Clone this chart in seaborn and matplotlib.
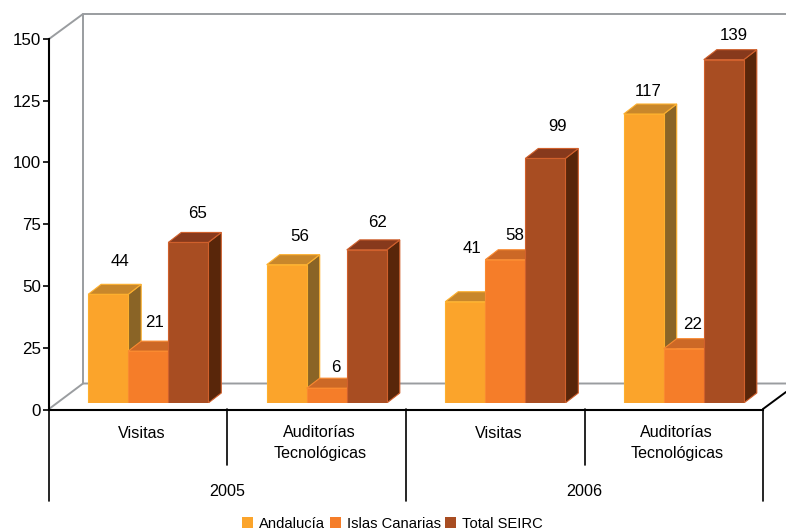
import matplotlib
matplotlib.use("Agg")
import matplotlib.pyplot as plt
from matplotlib.lines import Line2D
from matplotlib.patches import Polygon, Patch
import pandas as pd
import seaborn as sns

categories = ["2005 Visitas", "2005 Auditorías", "2006 Visitas", "2006 Auditorías"]
category_labels = ["Visitas", "Auditorías\nTecnológicas", "Visitas", "Auditorías\nTecnológicas"]
years = ["2005", "2006"]
series = ["Andalucía", "Islas Canarias", "Total SEIRC"]
andalucia = [44, 56, 41, 117]
canarias = [21, 6, 58, 22]
total = [65, 62, 99, 139]
y_ticks = [0, 25, 50, 75, 100, 125, 150]

front = ["#FBA42B", "#F57D29", "#A84D22"]
top = ["#C8872B", "#CC6826", "#87391C"]
side = ["#8A6426", "#8F5220", "#59260A"]
edge = ["#FDB02E", "#FA8A30", "#D0602C"]
# manual label placement in pixels from each bar's top centre (series, category)
label_shift = [[(12, 33), (13, 28), (7, 53), (4, 23)],
               [(6, 29), (9, 21), (9, 24), (9, 24)],
               [(9, 29), (11, 27), (12, 32), (10, 24)]]

W, H = 786, 529
sns.set_style("white")
plt.rcParams["font.family"] = ["Liberation Sans", "DejaVu Sans"]
plt.rcParams["text.color"] = "black"
plt.rcParams["ytick.labelcolor"] = "black"
FS = 11.6
fig = plt.figure(figsize=(W / 100, H / 100), dpi=100, facecolor="white")


def box(x0, x1, ytop, ybot):
    return [x0 / W, 1 - ybot / H, (x1 - x0) / W, (ybot - ytop) / H]


def fline(xs, ys, color="black", lw=1.4, z=1):
    fig.add_artist(Line2D([x / W for x in xs], [1 - y / H for y in ys],
                          color=color, lw=lw, zorder=z))


# Frame plane with the value axis
X0, X1, Y150, Y0 = 49, 763, 39, 409.5
frame = fig.add_axes(box(X0, X1, Y150, Y0), facecolor="none")
frame.set_xlim(-0.5, 3.5)
frame.set_ylim(0, 150)
frame.set_xticks([])
frame.set_yticks(y_ticks)
frame.tick_params(axis="y", length=4, width=1.2, pad=2, labelsize=FS + 0.6,
                  left=True, color="black", labelcolor="black")
sns.despine(ax=frame, top=True, right=True)
for s in ("left", "bottom"):
    frame.spines[s].set_linewidth(1.5)
    frame.spines[s].set_color("black")

# Back walls sit behind the axes that hold the bars
GRAY = "#9A9DA0"
fline([49, 83, 83], [39, 14, 383.5], GRAY, 1.4, z=-1)
fline([83, W], [14, 14], GRAY, 1.4, z=-1)
fline([49, 83, W], [409, 383.5, 383.5], GRAY, 1.4, z=-1)
fline([763, W], [409, 392], "black", 1.4)

# Hierarchical axis separators
for x in (49, 406, 763):
    fline([x, x], [409, 501], "black", 1.2)
for x in (227, 585):
    fline([x, x], [409, 465], "black", 1.2)

# Bars plane, shifted up and right from the frame plane
bars = fig.add_axes(box(X0 + 10, X1 + 10, Y150 - 6.5, Y0 - 6.5), facecolor="none")
df = pd.DataFrame({
    "categoria": categories * 3,
    "serie": [s for s in series for _ in categories],
    "valor": andalucia + canarias + total,
})
sns.barplot(data=df, x="categoria", y="valor", hue="serie", order=categories,
            hue_order=series, palette=front, saturation=1, width=0.673, gap=0,
            errorbar=None, legend=False, ax=bars)
bars.set_xlim(-0.5, 3.5)
bars.set_ylim(0, 150)
bars.axis("off")

dx = 13 * 4 / (X1 - X0)
dy = 10 * 150 / (Y0 - Y150)
for si, container in enumerate(bars.containers):
    for ci, bar in enumerate(container):
        x, w, h = bar.get_x(), bar.get_width(), bar.get_height()
        z = 3 + ci * 10 + si * 3
        bar.set_zorder(z + 2)
        bar.set_edgecolor(edge[si])
        bar.set_linewidth(0.8)
        bars.add_patch(Polygon([(x + w, 0), (x + w + dx, dy), (x + w + dx, h + dy), (x + w, h)],
                               facecolor=side[si], edgecolor=edge[si], lw=0.8, zorder=z))
        bars.add_patch(Polygon([(x, h), (x + dx, h + dy), (x + w + dx, h + dy), (x + w, h)],
                               facecolor=top[si], edgecolor=edge[si], lw=0.8, zorder=z + 1))
        sx, sy = label_shift[si][ci]
        bars.annotate(f"{int(h)}", xy=(x + w / 2, h), xytext=(sx, sy),
                      textcoords="offset pixels", ha="center", va="center",
                      fontsize=FS + 0.6, color="black", zorder=100, annotation_clip=False)

# Category and year labels
xform = frame.get_xaxis_transform()
for i, lab in enumerate(category_labels):
    first = "\n" in lab
    frame.annotate(lab, xy=(i, 0), xycoords=xform,
                   xytext=(3, -33.5 if first else -23.5), textcoords="offset pixels",
                   ha="center", va="center", fontsize=FS, linespacing=1.5,
                   color="black", annotation_clip=False)
for i, yr in enumerate(years):
    frame.annotate(yr, xy=(2 * i + 0.5, 0), xycoords=xform, xytext=(0, -82),
                   textcoords="offset pixels", ha="center", va="center",
                   fontsize=FS, color="black", annotation_clip=False)

handles = [Patch(facecolor=c, edgecolor="none") for c in front]
fig.legend(handles, series, ncol=3, frameon=False, fontsize=10.6,
           loc="center", bbox_to_anchor=(392.5 / W, 1 - 523.5 / H),
           handlelength=0.75, handleheight=0.75, handletextpad=0.4,
           columnspacing=0.3, borderpad=0, borderaxespad=0, labelcolor="black")

fig.savefig("out.png", dpi=100)
